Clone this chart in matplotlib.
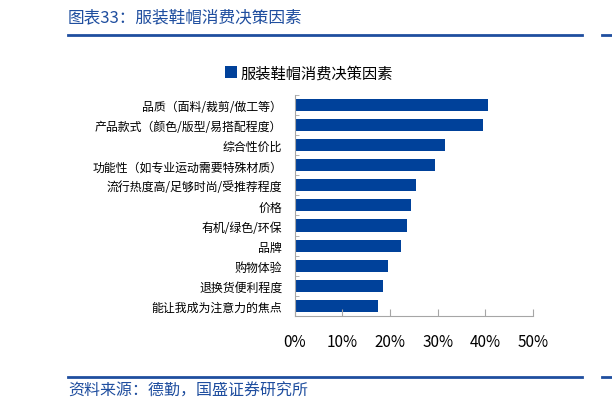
import matplotlib.pyplot as plt
import matplotlib.ticker as ticker
import numpy as np

plt.rcParams['font.family'] = ['Noto Sans CJK SC', 'DejaVu Sans']

categories = [
    "品质（面料/裁剪/做工等）",
    "产品款式（颜色/版型/易搭配程度）",
    "综合性价比",
    "功能性（如专业运动需要特殊材质）",
    "流行热度高/足够时尚/受推荐程度",
    "价格",
    "有机/绿色/环保",
    "品牌",
    "购物体验",
    "退换货便利程度",
    "能让我成为注意力的焦点",
]
values = [40.5, 39.4, 31.5, 29.4, 25.4, 24.3, 23.5, 22.4, 19.5, 18.5, 17.4]
x_ticks = [0, 10, 20, 30, 40, 50]
series_name = "服装鞋帽消费决策因素"
header = "图表33：服装鞋帽消费决策因素"
source = "资料来源：德勤，国盛证券研究所"

blue = "#00419A"
line_blue = "#1F4E9F"
grey = "#A6A6A6"

fig = plt.figure(figsize=(6.12, 4.10), dpi=100)
ax = fig.add_axes([0.4815, 0.227, 0.871 - 0.4815, 0.766 - 0.227])

y = np.arange(len(categories))
ax.barh(y, values, height=0.6, color=blue, label=series_name)
ax.set_ylim(len(categories) - 0.5, -0.5)
ax.set_xlim(0, 50)

ax.set_yticks(y)
ax.set_yticklabels(categories, fontsize=8.6)
ax.yaxis.set_minor_locator(ticker.FixedLocator(np.arange(-0.5, len(categories), 1)))
ax.tick_params(axis='y', which='major', length=0, pad=9)
ax.tick_params(axis='y', which='minor', direction='in', length=3, color=grey)

ax.set_xticks(x_ticks)
ax.xaxis.set_major_formatter(ticker.FuncFormatter(lambda v, p: f"{v:.0f}%"))
ax.tick_params(axis='x', direction='in', length=5, color=grey, labelsize=11, pad=12)

for s in ['top', 'right']:
    ax.spines[s].set_visible(False)
for s in ['left', 'bottom']:
    ax.spines[s].set_color(grey)
    ax.spines[s].set_linewidth(0.8)

ax.legend(loc='lower center', bbox_to_anchor=(0.06, 1.0), frameon=False,
          fontsize=11, handlelength=0.8, handleheight=0.9, handletextpad=0.2)

# header and footer
fig.text(68 / 612, 1 - 18 / 410, header, fontsize=12, color=line_blue, va='center', ha='left')
fig.text(68 / 612, 1 - 391 / 410, source, fontsize=11.5, color=line_blue, va='center', ha='left')
for yy in [36, 378]:
    fig.add_artist(plt.Line2D([68 / 612, 582 / 612], [1 - yy / 410] * 2, color=line_blue, lw=2))
    fig.add_artist(plt.Line2D([602 / 612, 1.0], [1 - yy / 410] * 2, color=line_blue, lw=2))

fig.savefig("out.png", dpi=100)
